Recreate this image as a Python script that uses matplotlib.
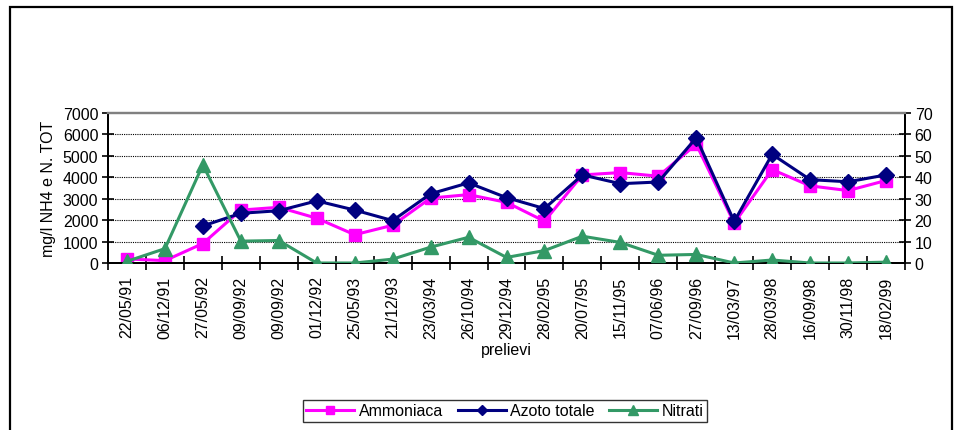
import matplotlib
matplotlib.use("Agg")
import matplotlib.pyplot as plt
from matplotlib.patches import Rectangle
from matplotlib.lines import Line2D
import numpy as np

plt.rcParams['font.family'] = ['Liberation Sans', 'DejaVu Sans']

dates = ["22/05/91", "06/12/91", "27/05/92", "09/09/92", "09/09/92", "01/12/92",
         "25/05/93", "21/12/93", "23/03/94", "26/10/94", "29/12/94", "28/02/95",
         "20/07/95", "15/11/95", "07/06/96", "27/09/96", "13/03/97", "28/03/98",
         "16/09/98", "30/11/98", "18/02/99"]

ammoniaca = [190, 110, 910, 2470, 2600, 2090, 1320, 1760, 3030, 3190, 2830,
             1950, 4110, 4220, 4050, 5540, 1860, 4360, 3600, 3380, 3850]

azoto_totale = [None, None, 1730, 2320, 2440, 2900, 2470, 1980, 3230, 3740, 3050,
                2540, 4110, 3700, 3780, 5840, 1940, 5070, 3890, 3790, 4110]

nitrati = [0.8, 6.7, 45.8, 10.2, 10.5, 0.0, 0.0, 1.8, 7.4, 12.0, 2.6,
           5.8, 12.5, 9.6, 3.6, 4.0, 0.0, 1.4, 0.0, 0.0, 0.4]

left_ticks = [0, 1000, 2000, 3000, 4000, 5000, 6000, 7000]
right_ticks = [0, 10, 20, 30, 40, 50, 60, 70]

FS = 11.5

W, H = 955, 431
fig = plt.figure(figsize=(W / 100, H / 100), dpi=100)
fig.patch.set_facecolor("white")

# outer chart border (open at the bottom edge)
fig.add_artist(Rectangle((10 / W, -0.05), (952 - 10) / W, 1.05 - 8 / H,
                         transform=fig.transFigure, fill=False,
                         edgecolor="black", linewidth=1.6, clip_on=False))

x0, x1, yt, yb = 108, 905, 114, 264
ax = fig.add_axes([x0 / W, 1 - yb / H, (x1 - x0) / W, (yb - yt) / H])
ax2 = ax.twinx()

x = np.arange(len(dates))

ax.set_xlim(-0.5, len(dates) - 0.5)
ax.set_ylim(0, 7000)
ax2.set_ylim(0, 70)

# horizontal gridlines
for v in left_ticks[1:-1]:
    ax.axhline(v, color="black", linewidth=0.8, linestyle=(0, (1, 1)), zorder=0.5)

az = np.array([np.nan if v is None else v for v in azoto_totale], dtype=float)

ax.plot(x, ammoniaca, color="#FF00FF", linewidth=2.2, marker="s", markersize=9,
        markeredgecolor="#FF00FF", label="Ammoniaca", zorder=3)
ax.plot(x, az, color="#000080", linewidth=2.2, marker="D", markersize=8,
        markeredgecolor="#000080", label="Azoto totale", zorder=4)
ax2.plot(x, nitrati, color="#339966", linewidth=2.2, marker="^", markersize=10,
         markeredgecolor="#339966", label="Nitrati", zorder=5)

# spines
for a in (ax, ax2):
    a.spines["top"].set_color("#808080")
    a.spines["top"].set_linewidth(1.6)
    a.spines["left"].set_linewidth(1.4)
    a.spines["right"].set_linewidth(1.4)
    a.spines["bottom"].set_linewidth(1.4)

ax.set_yticks(left_ticks)
ax.set_yticklabels([str(v) for v in left_ticks])
ax2.set_yticks(right_ticks)
ax2.set_yticklabels([str(v) for v in right_ticks])
ax.tick_params(axis="y", direction="inout", length=8, width=1.2, labelsize=FS, pad=3)
ax2.tick_params(axis="y", direction="inout", length=8, width=1.2, labelsize=FS, pad=3)

# category labels at centres, tick marks at category boundaries
ax.set_xticks(x)
ax.set_xticklabels(dates, rotation=90, fontsize=FS)
ax.set_xticks(np.arange(-0.5, len(dates) + 0.5, 1.0), minor=True)
ax.tick_params(axis="x", which="major", length=0, pad=9)
ax.tick_params(axis="x", which="minor", direction="inout", length=10, width=1.2)

ax.set_ylabel("mg/l NH4 e N. TOT", fontsize=FS, labelpad=5)
ax.set_xlabel("prelievi", fontsize=FS, labelpad=3)

handles = [
    Line2D([], [], color="#FF00FF", linewidth=2.2, marker="s", markersize=6),
    Line2D([], [], color="#000080", linewidth=2.2, marker="D", markersize=5.5),
    Line2D([], [], color="#339966", linewidth=2.2, marker="^", markersize=7),
]
leg = fig.legend(handles, ["Ammoniaca", "Azoto totale", "Nitrati"],
                 loc="center", bbox_to_anchor=(505 / W, 1 - 412 / H),
                 ncol=3, fontsize=FS, frameon=True, fancybox=False,
                 edgecolor="black", handlelength=3.0, handletextpad=0.3,
                 columnspacing=0.9, borderpad=0.2)
leg.get_frame().set_linewidth(1.0)

fig.savefig("out.png", dpi=100, facecolor="white")
